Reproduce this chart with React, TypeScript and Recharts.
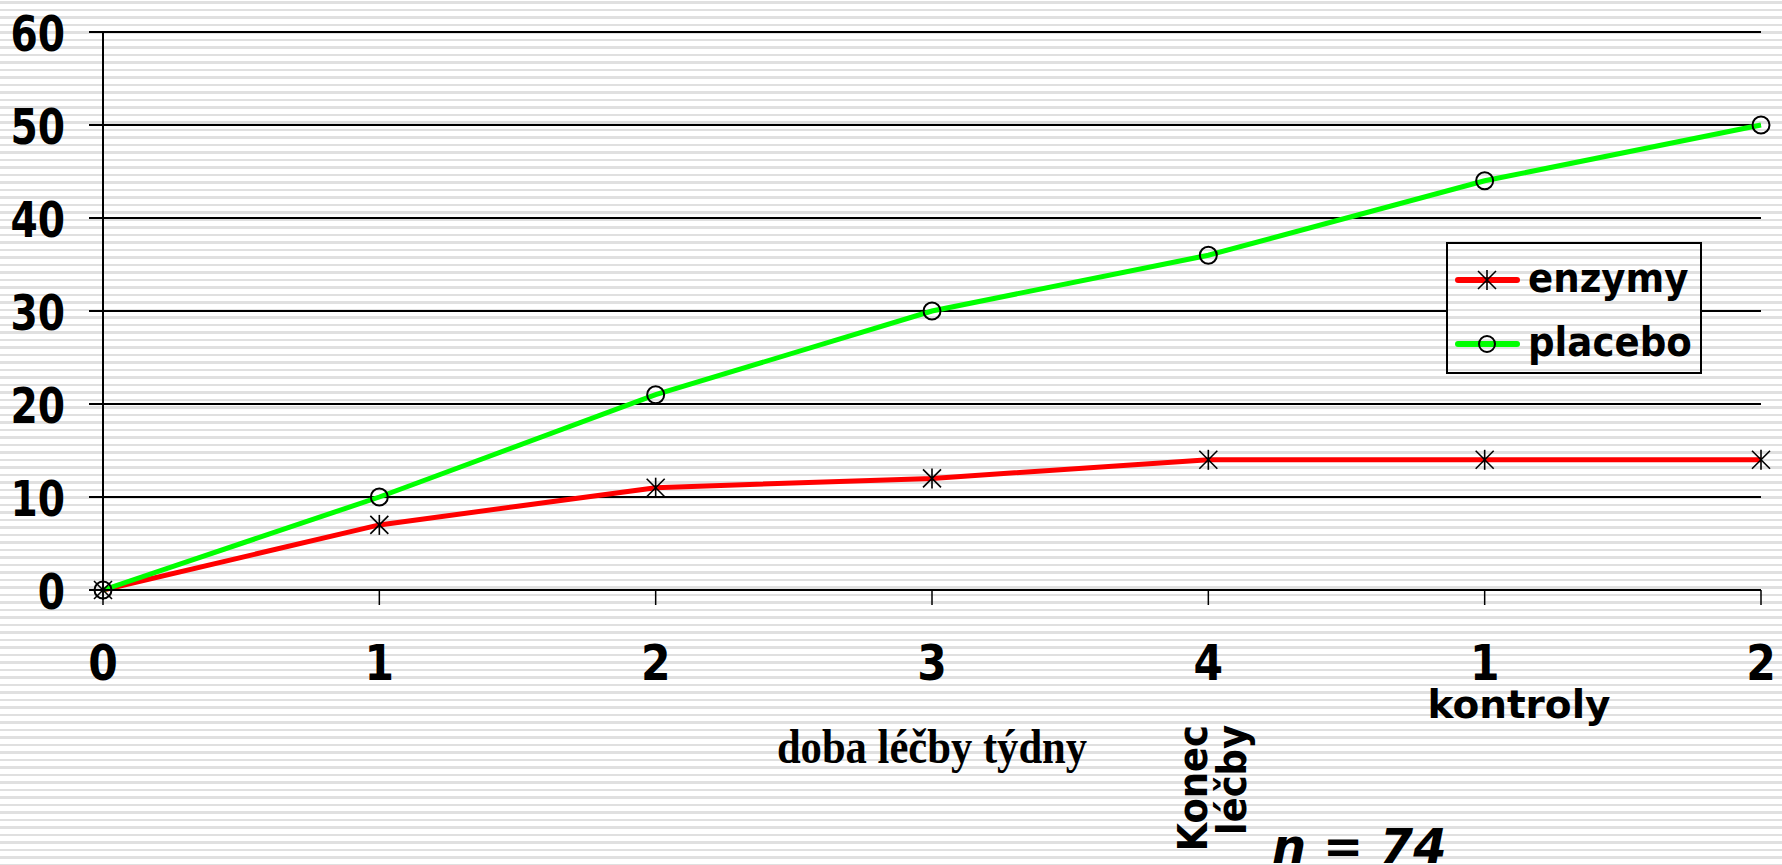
import React from "react";
import { CartesianGrid, Legend, Line, LineChart, XAxis, YAxis } from "recharts";

// x positions: weeks of treatment 0..4, then follow-up checks 1..2
const weekIndex = [0, 1, 2, 3, 4, 5, 6];
const weekLabels = ["0", "1", "2", "3", "4", "1", "2"];
const enzymyValues = [0, 7, 11, 12, 14, 14, 14];
const placeboValues = [0, 10, 21, 30, 36, 44, 50];
const yTicks = [0, 10, 20, 30, 40, 50, 60];

const seriesKeys = ["enzymy", "placebo"];
const seriesColors: Record<string, string> = { enzymy: "#ff0000", placebo: "#00ff00" };

const data = weekIndex.map((w, i) => ({
  w,
  enzymy: enzymyValues[i],
  placebo: placeboValues[i],
}));

const STRIPES =
  "repeating-linear-gradient(to bottom, #ffffff 0px, #ffffff 1.25px, #e0e0e0 1.25px, #e0e0e0 3.75px, #ffffff 3.75px, #ffffff 7.5px)";
const SANS = "'DejaVu Sans', Verdana, sans-serif";

function Star({ cx, cy, r = 9 }: { cx: number; cy: number; r?: number }) {
  return (
    <g stroke="#000" strokeWidth={1.6} fill="none">
      <line x1={cx - r} y1={cy - r} x2={cx + r} y2={cy + r} />
      <line x1={cx - r} y1={cy + r} x2={cx + r} y2={cy - r} />
      <line x1={cx} y1={cy - r - 1} x2={cx} y2={cy + r + 1} />
    </g>
  );
}

function Ring({ cx, cy, r = 8.5 }: { cx: number; cy: number; r?: number }) {
  return <circle cx={cx} cy={cy} r={r} stroke="#000" strokeWidth={2} fill="none" />;
}

const YTick = (props: any) => {
  const { x, y, payload } = props;
  return (
    <g transform={`translate(${x},${y})`}>
      <text
        textAnchor="end"
        dy={19}
        transform="scale(0.8,1)"
        fontFamily={SANS}
        fontWeight="bold"
        fontSize={49}
        fill="#000"
      >
        {payload.value}
      </text>
    </g>
  );
};

const XTick = (props: any) => {
  const { x, y, payload } = props;
  return (
    <g transform={`translate(${x},${y})`}>
      <text
        textAnchor="middle"
        dy={75}
        transform="scale(0.85,1)"
        fontFamily={SANS}
        fontWeight="bold"
        fontSize={50}
        fill="#000"
      >
        {weekLabels[payload.value]}
      </text>
    </g>
  );
};

const LegendBox = (props: any) => {
  const payload = props.payload || [];
  return (
    <div
      style={{
        boxSizing: "border-box",
        width: 256,
        height: 132,
        border: "2px solid #000",
        background: STRIPES,
        backgroundAttachment: "fixed",
      }}
    >
      <svg width={252} height={128} style={{ display: "block" }}>
        {payload.map((entry: any, i: number) => {
          const cy = 36 + i * 64;
          const key = entry.dataKey as string;
          return (
            <g key={key}>
              <line x1={10} y1={cy} x2={69} y2={cy} stroke={entry.color} strokeWidth={6} strokeLinecap="round" />
              {key === "enzymy" ? <Star cx={39} cy={cy} r={9} /> : <Ring cx={39} cy={cy} r={8} />}
              <g transform={`translate(80,${cy + 12})`}>
                <text transform="scale(0.93,1)" fontFamily={SANS} fontWeight="bold" fontSize={40} fill="#000">
                  {entry.value}
                </text>
              </g>
            </g>
          );
        })}
      </svg>
    </div>
  );
};

export default function App() {
  return (
    <div
      style={{
        position: "absolute",
        left: 0,
        top: 0,
        width: 1782,
        height: 865,
        overflow: "hidden",
        background: STRIPES,
      }}
    >
      <LineChart width={1782} height={865} data={data} margin={{ top: 32, right: 21, bottom: 0, left: 0 }}>
        <CartesianGrid vertical={false} stroke="#000" strokeWidth={2} />
        <XAxis
          dataKey="w"
          type="number"
          domain={[0, 6]}
          ticks={weekIndex}
          height={275}
          tickSize={15}
          tickMargin={0}
          axisLine={{ stroke: "#000", strokeWidth: 2 }}
          tickLine={{ stroke: "#000", strokeWidth: 1.5 }}
          tick={<XTick />}
          interval={0}
        />
        <YAxis
          domain={[0, 60]}
          ticks={yTicks}
          width={103}
          tickSize={14}
          tickMargin={24}
          axisLine={{ stroke: "#000", strokeWidth: 2 }}
          tickLine={{ stroke: "#000", strokeWidth: 2 }}
          tick={<YTick />}
          interval={0}
        />
        <Legend
          layout="horizontal"
          verticalAlign="middle"
          align="center"
          content={<LegendBox />}
          wrapperStyle={{ left: 1446, top: 242, width: 256, height: 132 }}
        />
        {seriesKeys.map((k) => (
          <Line
            key={k}
            dataKey={k}
            name={k}
            type="linear"
            stroke={seriesColors[k]}
            strokeWidth={5}
            isAnimationActive={false}
            dot={(p: any) =>
              k === "enzymy" ? (
                <Star key={`${k}-${p.index}`} cx={p.cx} cy={p.cy} />
              ) : (
                <Ring key={`${k}-${p.index}`} cx={p.cx} cy={p.cy} />
              )
            }
            activeDot={false}
          />
        ))}
      </LineChart>
      <svg
        width={1782}
        height={865}
        style={{ position: "absolute", left: 0, top: 0, pointerEvents: "none" }}
      >
        <text x={1519} y={718} textAnchor="middle" fontFamily={SANS} fontWeight="bold" fontSize={39} fill="#000">
          kontroly
        </text>
        <g transform="translate(932,763)">
          <text
            textAnchor="middle"
            transform="scale(0.87,1)"
            fontFamily="'Liberation Serif', 'Times New Roman', serif"
            fontWeight="bold"
            fontSize={49}
            fill="#000"
          >
            doba léčby týdny
          </text>
        </g>
        <g transform="translate(1207,725) rotate(-90) scale(0.9,1)" fontFamily={SANS} fontWeight="bold" fontSize={41} fill="#000">
          <text textAnchor="end" x={0} y={0}>
            Konec
          </text>
          <text textAnchor="end" x={0} y={39}>
            léčby
          </text>
        </g>
        <text x={1272} y={863} fontFamily={SANS} fontWeight="bold" fontStyle="italic" fontSize={48} fill="#000">
          n = 74
        </text>
      </svg>
    </div>
  );
}
